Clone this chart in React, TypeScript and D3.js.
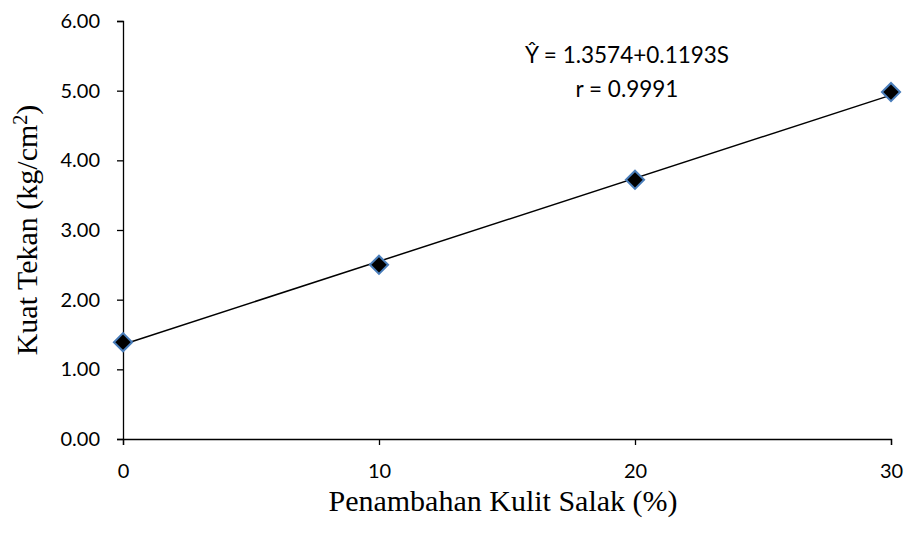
import React, { useEffect, useRef } from "react";
import * as d3 from "d3";

const additions = [0, 10, 20, 30];
const strength = [1.39, 2.5, 3.72, 4.98];
const yTicks = [0, 1, 2, 3, 4, 5, 6];
const xTicks = [0, 10, 20, 30];
const intercept = 1.3574;
const slope = 0.1193;
const equationText = "Ŷ = 1.3574+0.1193S";
const rText = "r = 0.9991";

const W = 909;
const H = 535;

const App = () => {
  const svgRef = useRef<SVGSVGElement>(null);

  useEffect(() => {
    const svg = d3.select(svgRef.current);
    svg.selectAll("*").remove();

    const margin = { top: 21, right: 18, bottom: 96, left: 123 };
    const innerWidth = W - margin.left - margin.right;
    const innerHeight = H - margin.top - margin.bottom;
    const tickFont = "Lato, 'Open Sans', sans-serif";
    const titleFont = "'Liberation Serif', 'Times New Roman', serif";

    const g = svg.append("g")
      .attr("transform", `translate(${margin.left},${margin.top})`);

    const x = d3.scaleLinear().domain([0, 30]).range([0, innerWidth]);
    const y = d3.scaleLinear().domain([0, 6]).range([innerHeight, 0]);

    // Axes
    const yAxis = g.append("g")
      .call(d3.axisLeft(y).tickValues(yTicks).tickSize(6).tickPadding(17)
        .tickFormat(d => d3.format(".2f")(d as number)));
    const xAxis = g.append("g")
      .attr("transform", `translate(0,${innerHeight})`)
      .call(d3.axisBottom(x).tickValues(xTicks).tickSize(6).tickPadding(19));

    [yAxis, xAxis].forEach(a => {
      a.select(".domain").attr("stroke", "#000").attr("stroke-width", 1.3);
      a.selectAll(".tick line").attr("stroke", "#000").attr("stroke-width", 1.3);
      a.selectAll(".tick text")
        .attr("fill", "#000")
        .style("font-family", tickFont)
        .style("font-size", "20px");
    });

    // Regression line
    g.append("line")
      .attr("x1", x(additions[0]))
      .attr("y1", y(intercept + slope * additions[0]))
      .attr("x2", x(additions[additions.length - 1]))
      .attr("y2", y(intercept + slope * additions[additions.length - 1]))
      .attr("stroke", "#000")
      .attr("stroke-width", 1.5);

    // Markers
    const diamond = d3.symbol().type(d3.symbolSquare).size(165);
    g.selectAll("path.pt")
      .data(additions)
      .enter()
      .append("path")
      .attr("class", "pt")
      .attr("d", diamond)
      .attr("transform", (d, i) => `translate(${x(d)},${y(strength[i])}) rotate(45)`)
      .attr("fill", "#000")
      .attr("stroke", "#4a7ebb")
      .attr("stroke-width", 2);

    // Equation
    const eq = g.append("text")
      .attr("text-anchor", "middle")
      .style("font-family", tickFont)
      .style("font-size", "22.5px")
      .attr("fill", "#000");
    eq.append("tspan").attr("x", 504).attr("y", 42).text(equationText);
    eq.append("tspan").attr("x", 504).attr("y", 76).text(rText);

    // Axis titles
    svg.append("text")
      .attr("x", margin.left + innerWidth / 2 - 4)
      .attr("y", 511)
      .attr("text-anchor", "middle")
      .style("font-family", titleFont)
      .style("font-size", "30px")
      .attr("fill", "#000")
      .text("Penambahan Kulit Salak (%)");

    const yt = svg.append("text")
      .attr("transform", `translate(37,${margin.top + innerHeight / 2}) rotate(-90)`)
      .attr("text-anchor", "middle")
      .style("font-family", titleFont)
      .style("font-size", "30px")
      .attr("fill", "#000");
    yt.append("tspan").text("Kuat Tekan (kg/cm");
    yt.append("tspan").attr("dy", -10).style("font-size", "20px").text("2");
    yt.append("tspan").attr("dy", 10).text(")");
  }, []);

  return (
    <svg ref={svgRef} width={W} height={H} style={{ position: "absolute", left: 0, top: 0, background: "#fff" }} />
  );
};

export default App;
